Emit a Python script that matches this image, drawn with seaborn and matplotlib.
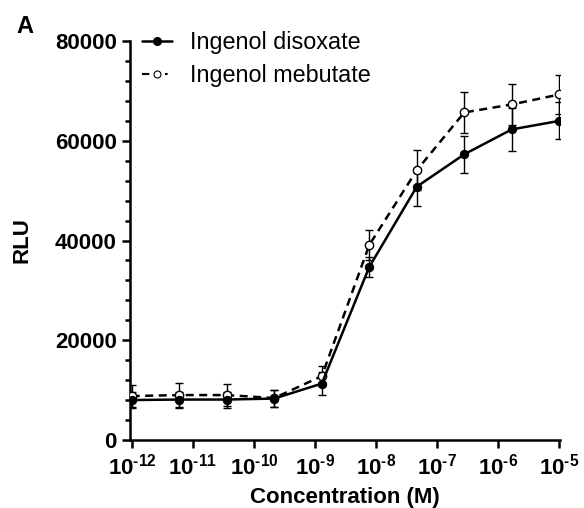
import matplotlib
matplotlib.use("Agg")
import matplotlib.pyplot as plt
import seaborn as sns
import pandas as pd
from matplotlib.lines import Line2D

# concentrations (M), 6-fold dilution series
conc = [9.92e-13, 5.95e-12, 3.57e-11, 2.14e-10, 1.29e-9,
        7.72e-9, 4.63e-8, 2.78e-7, 1.67e-6, 1.0e-5]

disoxate_mean = [8000, 8100, 8100, 8300, 11300, 34700, 50800, 57300, 62300, 64000]
disoxate_sd = [1650, 1600, 1600, 1750, 2300, 2000, 3800, 3700, 4300, 3700]

mebutate_mean = [8800, 9000, 9000, 8400, 12800, 39100, 54100, 65700, 67300, 69300]
mebutate_sd = [2200, 2350, 2200, 1700, 2000, 3100, 4000, 4100, 4200, 4000]

series_names = ["Ingenol disoxate", "Ingenol mebutate"]
xtick_vals = [1e-12, 1e-11, 1e-10, 1e-9, 1e-8, 1e-7, 1e-6, 1e-5]
xtick_labels = [r"$\mathbf{10^{\text{-}12}}$", r"$\mathbf{10^{\text{-}11}}$", r"$\mathbf{10^{\text{-}10}}$",
                r"$\mathbf{10^{\text{-}9}}$", r"$\mathbf{10^{\text{-}8}}$", r"$\mathbf{10^{\text{-}7}}$",
                r"$\mathbf{10^{\text{-}6}}$", r"$\mathbf{10^{\text{-}5}}$"]
ytick_vals = [0, 20000, 40000, 60000, 80000]

sns.set_style("ticks")
plt.rcParams["font.family"] = ["Liberation Sans", "DejaVu Sans"]
plt.rcParams["mathtext.fontset"] = "custom"
plt.rcParams["mathtext.bf"] = "Liberation Sans:bold"
plt.rcParams["mathtext.rm"] = "Liberation Sans:bold"
plt.rcParams["text.color"] = "black"
plt.rcParams["axes.labelcolor"] = "black"
plt.rcParams["xtick.color"] = "black"
plt.rcParams["ytick.color"] = "black"
plt.rcParams["xtick.labelcolor"] = "black"
plt.rcParams["ytick.labelcolor"] = "black"

df = pd.DataFrame({
    "conc": conc * 2,
    "rlu": disoxate_mean + mebutate_mean,
    "compound": [series_names[0]] * len(conc) + [series_names[1]] * len(conc),
})

fig = plt.figure(figsize=(5.84, 5.08), dpi=100)
ax = fig.add_axes([0.2226, 0.134, 0.7364, 0.785])

# error bars first, markers on top
ax.errorbar(conc, mebutate_mean, yerr=mebutate_sd, fmt="none", ecolor="black",
            elinewidth=1.0, capsize=3, capthick=1.0, zorder=2)
ax.errorbar(conc, disoxate_mean, yerr=disoxate_sd, fmt="none", ecolor="black",
            elinewidth=1.0, capsize=3, capthick=1.0, zorder=2)

sub = df[df["compound"] == series_names[1]]
sns.lineplot(data=sub, x="conc", y="rlu", ax=ax, color="black", linewidth=1.8,
             dashes=False, marker="o", markersize=6, markerfacecolor="white",
             markeredgecolor="black", markeredgewidth=1.0, zorder=3)
ax.lines[-1].set_dashes((3.2, 2.2))
sub = df[df["compound"] == series_names[0]]
sns.lineplot(data=sub, x="conc", y="rlu", ax=ax, color="black", linewidth=1.8,
             marker="o", markersize=6, markerfacecolor="black",
             markeredgecolor="black", zorder=4)

ax.set_xscale("log")
ax.set_xlim(0.93e-12, 1.03e-5)
ax.set_ylim(0, 80000)
ax.set_xticks(xtick_vals)
ax.set_xticklabels(xtick_labels, fontsize=16)
ax.minorticks_off()
ax.set_yticks(ytick_vals)
ax.set_yticks(range(0, 80001, 4000), minor=True)
ax.set_yticklabels([str(v) for v in ytick_vals], fontsize=16, fontweight="bold")
ax.tick_params(axis="both", which="major", direction="out", length=6, width=1.8,
               color="black", labelcolor="black", pad=3.5)
ax.tick_params(axis="y", which="minor", direction="out", length=3.5, width=1.8, color="black")
ax.tick_params(axis="x", which="minor", length=0)

for side in ["left", "bottom"]:
    ax.spines[side].set_linewidth(1.8)
    ax.spines[side].set_color("black")
sns.despine(ax=ax)

ax.set_xlabel("Concentration (M)", fontsize=16, fontweight="bold", labelpad=6, color="black")
ax.set_ylabel("RLU", fontsize=16, fontweight="bold", labelpad=16, color="black")

handles = [
    Line2D([0], [0], color="black", lw=1.8, marker="o", markersize=5.5,
           markerfacecolor="black"),
    Line2D([0], [0], color="black", lw=1.5, dashes=(3.5, 7.5, 1.3, 6), marker="o",
           markersize=5, markerfacecolor="white", markeredgecolor="black",
           markeredgewidth=0.8),
]
leg = ax.legend(handles, series_names, loc="upper left",
                bbox_to_anchor=(142 / 584, 1 - 31 / 508), bbox_transform=fig.transFigure,
                frameon=False, fontsize=16.8, handlelength=1.3, handletextpad=0.75,
                labelspacing=0.42, borderpad=0, borderaxespad=0)
for t in leg.get_texts():
    t.set_color("black")

fig.text(16 / 584, 1 - 33 / 508, "A", fontsize=17, fontweight="bold", color="black")

fig.savefig("out.png", dpi=100)
